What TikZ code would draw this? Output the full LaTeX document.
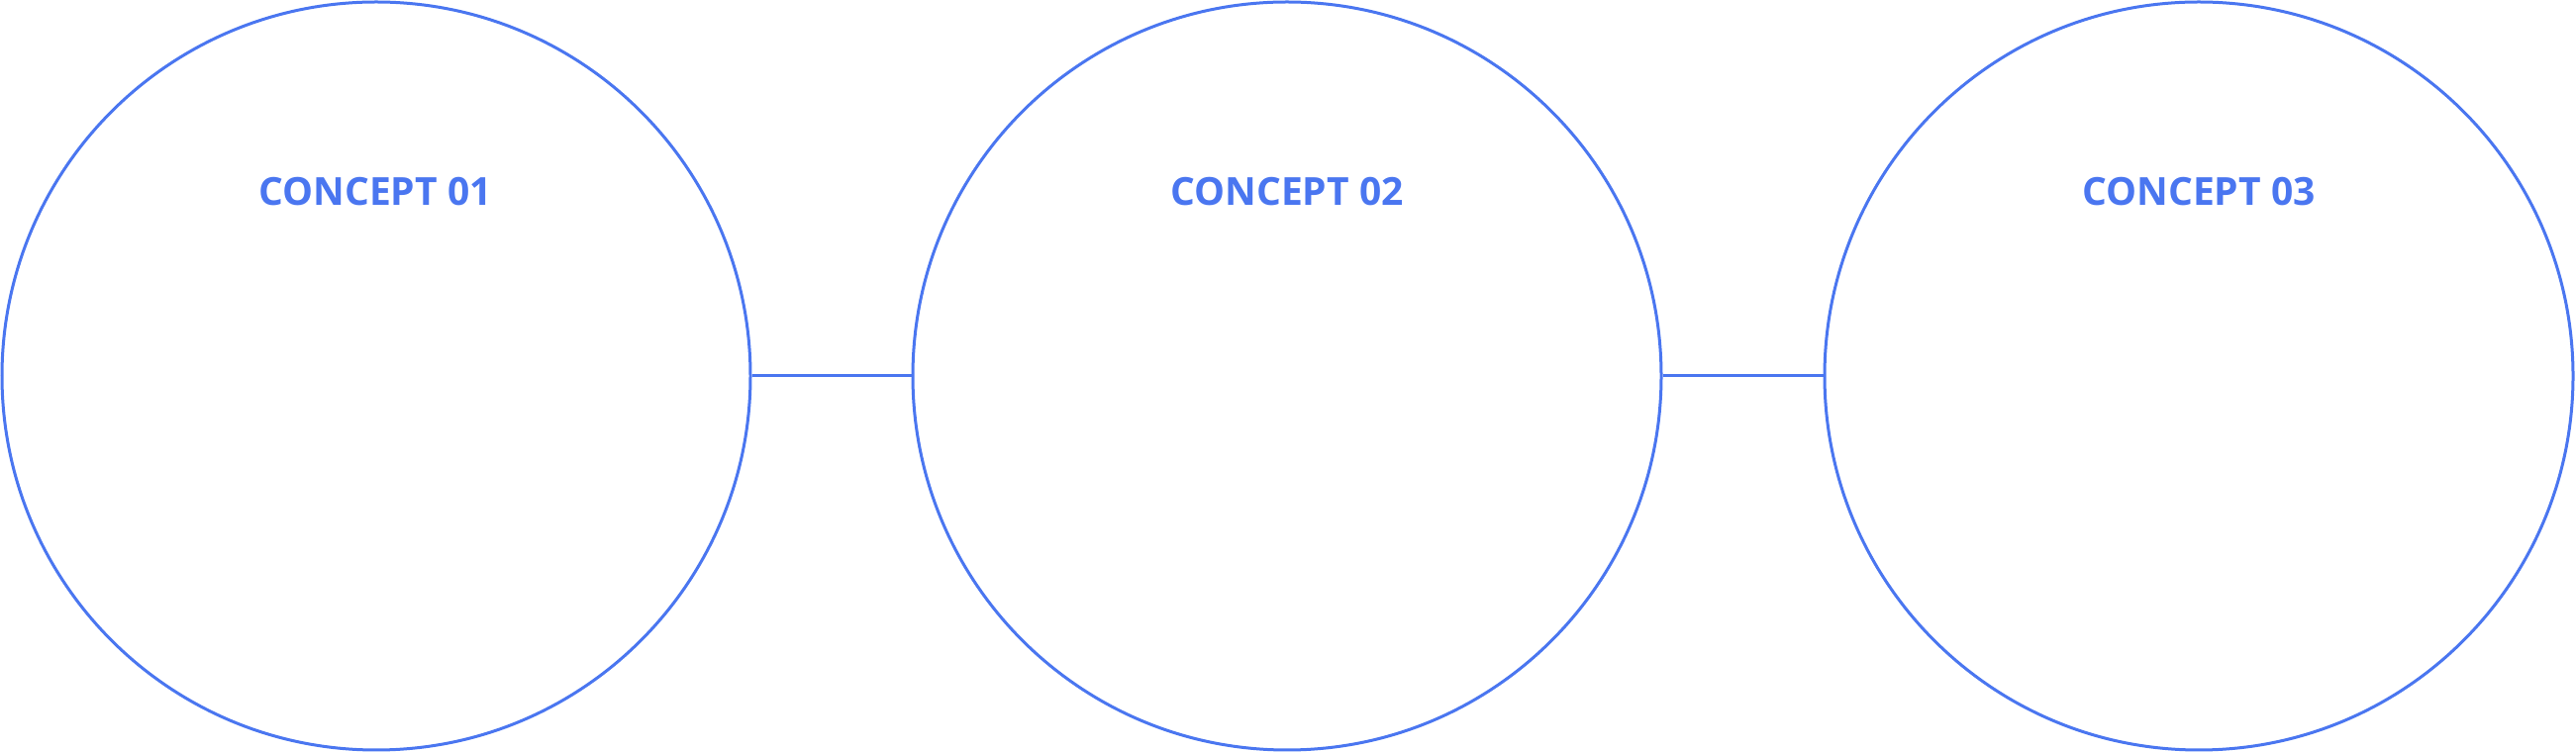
\documentclass[tikz,border=0pt]{standalone}
\usepackage{fontspec}
\setmainfont{Open Sans}
\definecolor{cblue}{RGB}{74,118,240}
\begin{document}
\begin{tikzpicture}[x=1pt,y=1pt,
  concept/.style={circle, draw=cblue, line width=3pt, minimum size=756pt, inner sep=0pt},
  ctitle/.style={text=cblue, font=\fontsize{39}{47}\selectfont\bfseries, inner sep=0pt},
  link/.style={draw=cblue, line width=3pt}]
\useasboundingbox (0,0) rectangle (2602,760);
\node[concept] (c1) at (380,380) {};
\node[concept] (c2) at (1300,380) {};
\node[concept] (c3) at (2221,380) {};
\node[ctitle] (t1) at (379,566.5) {CONCEPT 01};
\node[ctitle] (t2) at (1300,566.5) {CONCEPT 02};
\node[ctitle] (t3) at (2221,566.5) {CONCEPT 03};
\draw[link] (c1.east) -- (c2.west);
\draw[link] (c2.east) -- (c3.west);
\end{tikzpicture}
\end{document}
